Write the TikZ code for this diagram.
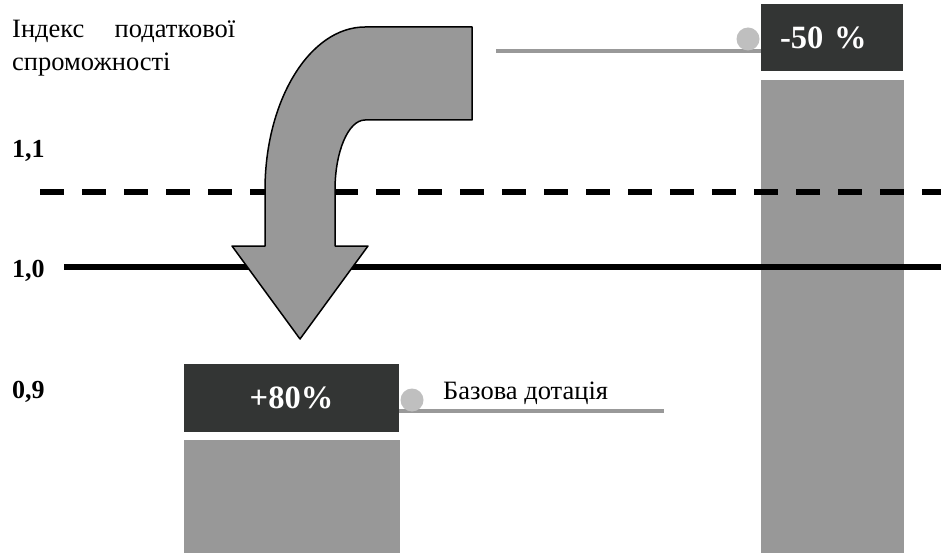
\documentclass[tikz,border=0pt]{standalone}
\usepackage{fontspec}
\setmainfont{Liberation Serif}
\usetikzlibrary{positioning}
\definecolor{boxdark}{HTML}{333534}
\definecolor{bargray}{HTML}{989898}
\definecolor{dotgray}{HTML}{BFBFBF}
\definecolor{linegray}{HTML}{999999}

\begin{document}
\begin{tikzpicture}[
    x=1pt, y=-1pt,
 axislabel/.style = {
        font=\fontsize{26}{30}\selectfont\bfseries,
        anchor=base west, inner sep=0pt},
 plaintext/.style = {
        font=\fontsize{26.5}{33}\selectfont,
        inner sep=0pt, align=left},
 pctbox/.style = {
        fill=boxdark, text=white, rectangle,
        font=\fontsize{32.5}{36}\selectfont\bfseries,
        inner sep=0pt, outer sep=0pt},
 bar/.style = {
        fill=bargray, rectangle, inner sep=0pt, outer sep=0pt},
 dot/.style = {
        circle, fill=dotgray, minimum size=23pt, inner sep=0pt},
 conn/.style = {draw=linegray, line width=3.5pt},
 level/.style = {line width=5.5pt},
 bigarrow/.style = {fill=bargray, draw=black, line width=1.5pt, line join=round}
                    ]
\useasboundingbox (0,0) rectangle (941,553);

% the title on the left
\node (title) [plaintext, anchor=north west] at (12,20)
    {\makebox[223pt][s]{Індекс\hfill податкової}\\спроможності};

% the axis labels
\node (l11) [axislabel] at (12,158) {1,1};
\node (l10) [axislabel] at (12,277) {1,0};
\node (l09) [axislabel] at (12,398) {0,9};

% the boxes and bars on the right
\node (dec) [pctbox, minimum height=67pt, text width=104pt,
             inner xsep=19pt, align=left] at (832,37.5) {-50 \%};
\node (barR) [bar, below=9pt of dec, minimum width=143pt, minimum height=473pt] {};

% the boxes and bars on the left
\node (inc) [pctbox, minimum width=215pt, minimum height=68pt] at (291.5,398) {+80\%};
\node (barL) [bar, below=8pt of inc, minimum width=216pt, minimum height=113pt] {};

% the level lines
\coordinate (dashL) at (40,192);
\coordinate (solidL) at (64,267);
\draw[level, dash pattern=on 24pt off 18pt] (dashL) -- (dashL -| 941,0);
\draw[level] (solidL) -- (solidL -| 941,0);

% the connectors with dots
\coordinate (endR) at (496,51);
\coordinate (endL) at (664,411);
\draw[conn] (endR) -- (endR -| dec.west);
\draw[conn] (endL -| inc.east) -- (endL);
\node (dotR) [dot] at (748,39) {};
\node (dotL) [dot] at (412,400) {};
\node (base) [plaintext, anchor=base west] at (443,399) {Базова дотація};

% the bent arrow
\draw[bigarrow] (265,246) -- (265,190)
    .. controls (265,100) and (310,27) .. (365,27)
    -- (472,27) -- (472,120) -- (365,120)
    .. controls (348.4,120) and (335,151.4) .. (335,190)
    -- (335,246) -- (368,246) -- (300,339) -- (232,246) -- cycle;
\end{tikzpicture}
\end{document}
